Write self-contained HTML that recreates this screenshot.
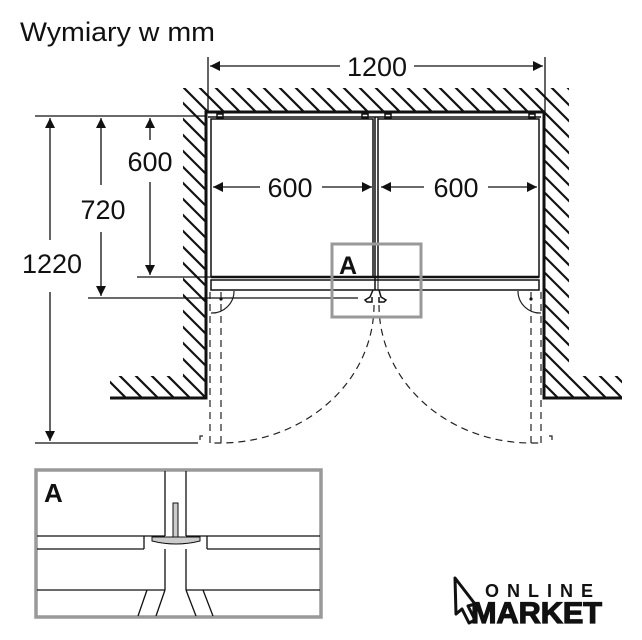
<!DOCTYPE html>
<html><head><meta charset="utf-8"><style>
html,body{margin:0;padding:0;background:#fff;width:642px;height:640px;overflow:hidden}
svg{display:block}
text{font-family:"Liberation Sans",Arial,sans-serif}
</style></head><body>
<svg width="642" height="640" viewBox="0 0 642 640" xmlns="http://www.w3.org/2000/svg">
<defs>
<clipPath id="hc">
<rect x="183" y="88" width="386" height="24"/>
<rect x="183" y="112" width="22" height="286"/>
<rect x="110" y="376" width="95" height="22"/>
<rect x="545" y="112" width="24" height="286"/>
<rect x="545" y="376" width="77" height="22"/>
</clipPath>
<marker id="ar" viewBox="0 0 10 10" refX="10" refY="5" markerWidth="10" markerHeight="10" orient="auto-start-reverse" markerUnits="userSpaceOnUse"><path d="M0,0 L10,5 L0,10 z" fill="#111"/></marker>
</defs>
<text x="20" y="41" font-size="27" fill="#111" textLength="195" lengthAdjust="spacingAndGlyphs">Wymiary w mm</text>

<!-- hatching -->
<path clip-path="url(#hc)" stroke="#111" stroke-width="2.2" fill="none" d="M-240 80l320 320M-224 80l320 320M-208 80l320 320M-192 80l320 320M-176 80l320 320M-160 80l320 320M-144 80l320 320M-128 80l320 320M-112 80l320 320M-96 80l320 320M-80 80l320 320M-64 80l320 320M-48 80l320 320M-32 80l320 320M-16 80l320 320M0 80l320 320M16 80l320 320M32 80l320 320M48 80l320 320M64 80l320 320M80 80l320 320M96 80l320 320M112 80l320 320M128 80l320 320M144 80l320 320M160 80l320 320M176 80l320 320M192 80l320 320M208 80l320 320M224 80l320 320M240 80l320 320M256 80l320 320M272 80l320 320M288 80l320 320M304 80l320 320M320 80l320 320M336 80l320 320M352 80l320 320M368 80l320 320M384 80l320 320M400 80l320 320M416 80l320 320M432 80l320 320M448 80l320 320M464 80l320 320M480 80l320 320M496 80l320 320M512 80l320 320M528 80l320 320M544 80l320 320M560 80l320 320M576 80l320 320M592 80l320 320M608 80l320 320M624 80l320 320M640 80l320 320"/>
<g stroke="#111" fill="none" stroke-width="3">
<polyline points="110,398 206,398 206,112 544,112 544,398 622,398"/>
</g>
<!-- fridge -->
<g stroke="#111" fill="none" stroke-width="1.5">
<line x1="208" y1="117" x2="541" y2="117"/>
<rect x="211" y="119" width="162" height="158"/>
<rect x="378" y="119" width="161" height="158"/>
<line x1="211" y1="277" x2="539" y2="277" stroke-width="2.5"/>
<rect x="211" y="280" width="328" height="10"/>
<rect x="217" y="114" width="6" height="4"/><rect x="362" y="114" width="6" height="4"/>
<rect x="385" y="114" width="6" height="4"/><rect x="529" y="114" width="6" height="4"/>
<line x1="375" y1="117" x2="375" y2="290"/>
<line x1="378" y1="117" x2="378" y2="290" stroke-width="1"/>
<path d="M373,290 L370,297 L365,300 L367,302 L372,302 L372,297 M379,290 L381,297 L386,300 L384,302 L379,302 L379,297"/>
</g>
<!-- dims -->
<g stroke="#111" stroke-width="1.3" fill="none">
<line x1="208" y1="57" x2="208" y2="112"/><line x1="545" y1="57" x2="545" y2="112"/>
<line x1="210" y1="66" x2="340" y2="66" marker-start="url(#ar)"/>
<line x1="414" y1="66" x2="543" y2="66" marker-end="url(#ar)"/>
<line x1="213" y1="187" x2="260" y2="187" marker-start="url(#ar)"/>
<line x1="322" y1="187" x2="372" y2="187" marker-end="url(#ar)"/>
<line x1="381" y1="187" x2="424" y2="187" marker-start="url(#ar)"/>
<line x1="488" y1="187" x2="537" y2="187" marker-end="url(#ar)"/>
<line x1="35" y1="116" x2="205" y2="116"/>
<line x1="137" y1="277" x2="211" y2="277"/>
<line x1="88" y1="298" x2="358" y2="298"/>
<line x1="35" y1="443" x2="198" y2="443"/>
<line x1="50" y1="118" x2="50" y2="240" marker-start="url(#ar)"/>
<line x1="50" y1="292" x2="50" y2="441" marker-end="url(#ar)"/>
<line x1="101" y1="118" x2="101" y2="185" marker-start="url(#ar)"/>
<line x1="101" y1="232" x2="101" y2="296" marker-end="url(#ar)"/>
<line x1="150" y1="118" x2="150" y2="140" marker-start="url(#ar)"/>
<line x1="150" y1="182" x2="150" y2="275" marker-end="url(#ar)"/>
</g>
<g font-size="27" fill="#111" text-anchor="middle">
<text x="377" y="76">1200</text>
<text x="290" y="197">600</text>
<text x="456" y="197">600</text>
<text x="150" y="171">600</text>
<text x="103" y="219">720</text>
<text x="52" y="273">1220</text>
</g>
<!-- doors -->
<g stroke="#222" stroke-width="1.2" fill="none" stroke-dasharray="7,5">
<line x1="210" y1="292" x2="210" y2="443"/><line x1="221" y1="292" x2="221" y2="443"/>
<line x1="531" y1="292" x2="531" y2="443"/><line x1="541" y1="292" x2="541" y2="443"/>
<path d="M374,305 A154,138 0 0 1 220,443 L210,443"/>
<path d="M379,305 A152,138 0 0 0 531,443 L541,443"/>
</g>
<g stroke="#222" stroke-width="1.2" fill="none">
<path d="M211,313 A22,22 0 0 0 234,291"/>
<path d="M541,313 A22,22 0 0 1 518,291"/>
<path d="M200,440 L200,436 L203,436"/><path d="M552,440 L552,436 L549,436"/>
</g>
<circle cx="221" cy="299" r="1.6" fill="#111"/><circle cx="531" cy="299" r="1.6" fill="#111"/>
<!-- box A -->
<rect x="332" y="244" width="89" height="73" fill="none" stroke="#999" stroke-width="3"/>
<text x="339" y="274" font-size="25" font-weight="bold" fill="#111">A</text>

<!-- detail A -->
<rect x="36" y="470" width="285" height="147" fill="none" stroke="#999" stroke-width="3.5"/>
<text x="44" y="502" font-size="26" font-weight="bold" fill="#111">A</text>
<g stroke="#111" stroke-width="1.3" fill="none">
<line x1="165" y1="471" x2="165" y2="536"/><line x1="186" y1="471" x2="186" y2="536"/>
<line x1="37" y1="536" x2="165" y2="536"/><line x1="186" y1="536" x2="320" y2="536"/>
<line x1="37" y1="549" x2="144" y2="549"/><line x1="207" y1="549" x2="320" y2="549"/>
<line x1="144" y1="536" x2="144" y2="549"/><line x1="207" y1="536" x2="207" y2="549"/>
<line x1="165" y1="549" x2="165" y2="590"/><line x1="186" y1="549" x2="186" y2="590"/>
<line x1="37" y1="590" x2="165" y2="590"/><line x1="186" y1="590" x2="320" y2="590"/>
<line x1="165" y1="590" x2="156" y2="616"/><line x1="186" y1="590" x2="196" y2="616"/>
<line x1="147" y1="590" x2="138" y2="616"/><line x1="203" y1="590" x2="213" y2="616"/>
</g>
<g stroke="#111" stroke-width="1" fill="#ccc">
<rect x="173" y="503" width="5" height="34"/>
<path d="M152,537 L200,537 L200,541 Q176,547 152,541 Z"/>
</g>
<!-- logo -->
<path d="M455,578 L475,604 L468,606 L475,620 L469,623 L462,609 L456,614 Z" fill="#fff" stroke="#111" stroke-width="3" stroke-linejoin="round"/>
<text x="485" y="597" font-size="18" font-weight="bold" fill="#111" letter-spacing="8">ONLINE</text>
<text x="471" y="623" font-size="30" font-weight="bold" fill="#111" stroke="#111" stroke-width="1.2" textLength="131" lengthAdjust="spacingAndGlyphs">MARKET</text>
</svg>
</body></html>
